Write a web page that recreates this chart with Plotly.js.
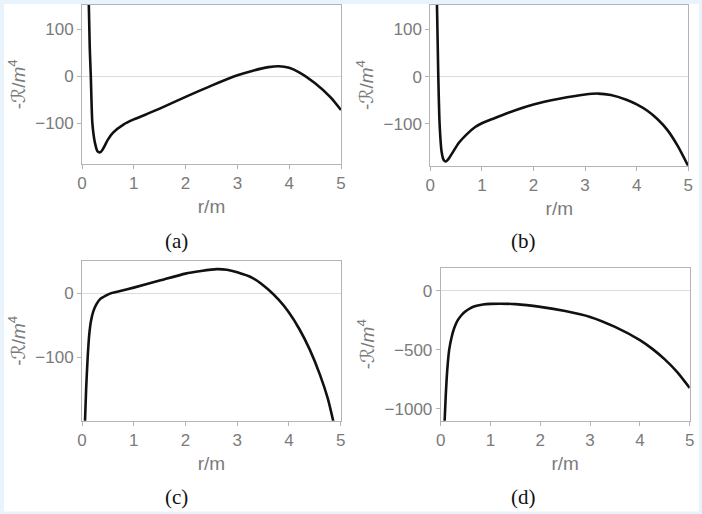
<!DOCTYPE html>
<html>
<head>
<meta charset="utf-8">
<script src="https://cdn.plot.ly/plotly-3.0.1.min.js"></script>
<style>
  html, body { margin: 0; padding: 0; background: #ffffff; }
  #chart { width: 702px; height: 514px; }
</style>
</head>
<body>
<div id="chart"></div>
<script>
// ---- Data ----
// Panel (a)
const xA = [0.13, 0.15, 0.17, 0.2, 0.25, 0.3, 0.35, 0.4, 0.5, 0.6, 0.8, 1.0, 1.2, 1.5, 2.0, 2.5, 3.0, 3.3, 3.6, 3.8, 4.0, 4.2, 4.5, 4.8, 5.0];
const yA = [160, 60, 0, -100, -142, -160, -162, -156, -135, -120, -103, -92, -83, -69, -44, -20, 2, 12, 19.5, 21.5, 18, 8, -15, -45, -72];
// Panel (b)
const xB = [0.128, 0.145, 0.155, 0.18, 0.22, 0.26, 0.3, 0.35, 0.45, 0.55, 0.7, 0.87, 1.0, 1.2, 1.5, 2.0, 2.5, 3.0, 3.25, 3.5, 3.8, 4.0, 4.2, 4.4, 4.6, 4.8, 5.0];
const yB = [160, 60, 0, -100, -160, -177, -180, -175, -158, -141, -123, -107, -99, -90, -77, -59, -47, -38, -36, -39, -49, -59, -72, -90, -114, -148, -190];
// Panel (c)
const xC = [0.056, 0.08, 0.11, 0.14, 0.17, 0.22, 0.28, 0.35, 0.45, 0.55, 0.7, 1.0, 1.5, 2.0, 2.3, 2.6, 2.8, 3.0, 3.3, 3.6, 3.8, 4.0, 4.2, 4.4, 4.6, 4.75, 4.86];
const yC = [-205, -150, -100, -65, -45, -28, -17, -9, -4, 0, 3, 9, 20, 31, 35, 38, 37, 33, 24, 6, -10, -30, -56, -88, -128, -165, -202];
// Panel (d)
const xD = [0.078, 0.1, 0.13, 0.17, 0.22, 0.27, 0.34, 0.42, 0.5, 0.59, 0.7, 0.85, 1.0, 1.2, 1.5, 2.0, 2.5, 3.0, 3.5, 4.0, 4.25, 4.5, 4.75, 5.0];
const yD = [-1110, -900, -680, -500, -390, -316, -250, -204, -172, -147, -128, -115, -110, -108, -112, -135, -170, -220, -305, -417, -491, -580, -688, -822];

const xTicks = [0, 1, 2, 3, 4, 5];
const yTicksA = [-100, 0, 100];
const yTicksB = [-100, 0, 100];
const yTicksC = [-100, 0];
const yTicksD = [-1000, -500, 0];
const captions = ["(a)", "(b)", "(c)", "(d)"];
const xLabel = "r/m";
const yLabel = "-<i>ℛ</i>/<i>m</i><sup>4</sup>";

// ---- Styling ----
const W = 702, H = 514;
const px = v => v / W;
const py = v => 1 - v / H;
const gray = "#7b7b7b";
const frame = "#b4b4b4";
const tickFont = { family: "Liberation Sans, Arial, sans-serif", size: 17, color: gray };
const titleFont = { family: "Liberation Sans, DejaVu Sans, sans-serif", size: 19, color: gray };

function xAxis(dom, anchor) {
  return {
    domain: dom, anchor: anchor, range: [0, 5], tickvals: xTicks,
    showgrid: false, zeroline: false, showline: true, mirror: true,
    linecolor: frame, linewidth: 1, ticks: "outside", ticklen: 4, tickcolor: frame,
    tickfont: tickFont, title: { text: xLabel, font: titleFont, standoff: 7 }
  };
}
function yAxis(dom, anchor, range, tv) {
  return {
    domain: dom, anchor: anchor, range: range, tickvals: tv,
    showgrid: false, zeroline: true, zerolinecolor: "#dcdcdc", zerolinewidth: 1,
    showline: true, mirror: true, linecolor: frame, linewidth: 1,
    ticks: "outside", ticklen: 4, tickcolor: frame,
    tickfont: tickFont, title: { text: yLabel, font: titleFont, standoff: 4 }
  };
}

const lineStyle = { color: "#111111", width: 2.6, shape: "spline", smoothing: 0.6 };
const traces = [
  { x: xA, y: yA, xaxis: "x", yaxis: "y", mode: "lines", line: lineStyle, hoverinfo: "skip" },
  { x: xB, y: yB, xaxis: "x2", yaxis: "y2", mode: "lines", line: lineStyle, hoverinfo: "skip" },
  { x: xC, y: yC, xaxis: "x3", yaxis: "y3", mode: "lines", line: lineStyle, hoverinfo: "skip" },
  { x: xD, y: yD, xaxis: "x4", yaxis: "y4", mode: "lines", line: lineStyle, hoverinfo: "skip" }
];

const border = "#e8f3fb";
const capFont = { family: "Liberation Serif, DejaVu Serif, serif", size: 21, color: "#111111" };
const capPos = [[176, 241], [523, 241], [176, 497], [523, 497]];

const layout = {
  width: W, height: H,
  margin: { l: 0, r: 0, t: 0, b: 0 },
  paper_bgcolor: "#ffffff", plot_bgcolor: "#ffffff",
  showlegend: false,
  xaxis: xAxis([px(82), px(341)], "y"),
  yaxis: yAxis([py(164), py(4.5)], "x", [-187, 153], yTicksA),
  xaxis2: xAxis([px(430.3), px(688.3)], "y2"),
  yaxis2: yAxis([py(165.7), py(4.5)], "x2", [-189, 153], yTicksB),
  xaxis3: xAxis([px(82), px(340.7)], "y3"),
  yaxis3: yAxis([py(420.7), py(261)], "x3", [-200, 50.8], yTicksC),
  xaxis4: xAxis([px(440.7), px(689.7)], "y4"),
  yaxis4: yAxis([py(420.7), py(267.7)], "x4", [-1100, 197], yTicksD),
  annotations: captions.map((c, i) => ({
    text: c, xref: "paper", yref: "paper", x: px(capPos[i][0]), y: py(capPos[i][1]),
    xanchor: "center", yanchor: "middle", showarrow: false, font: capFont
  })),
  shapes: [
    { type: "rect", xref: "paper", yref: "paper", x0: 0, x1: 1, y0: py(4), y1: 1, fillcolor: border, line: { width: 0 }, layer: "above" },
    { type: "rect", xref: "paper", yref: "paper", x0: 0, x1: 1, y0: 0, y1: py(511.5), fillcolor: border, line: { width: 0 }, layer: "above" },
    { type: "rect", xref: "paper", yref: "paper", x0: 0, x1: px(4), y0: 0, y1: 1, fillcolor: border, line: { width: 0 }, layer: "above" },
    { type: "rect", xref: "paper", yref: "paper", x0: px(699), x1: 1, y0: 0, y1: 1, fillcolor: border, line: { width: 0 }, layer: "above" }
  ]
};

Plotly.newPlot("chart", traces, layout, { staticPlot: true, displayModeBar: false });
</script>
</body>
</html>
